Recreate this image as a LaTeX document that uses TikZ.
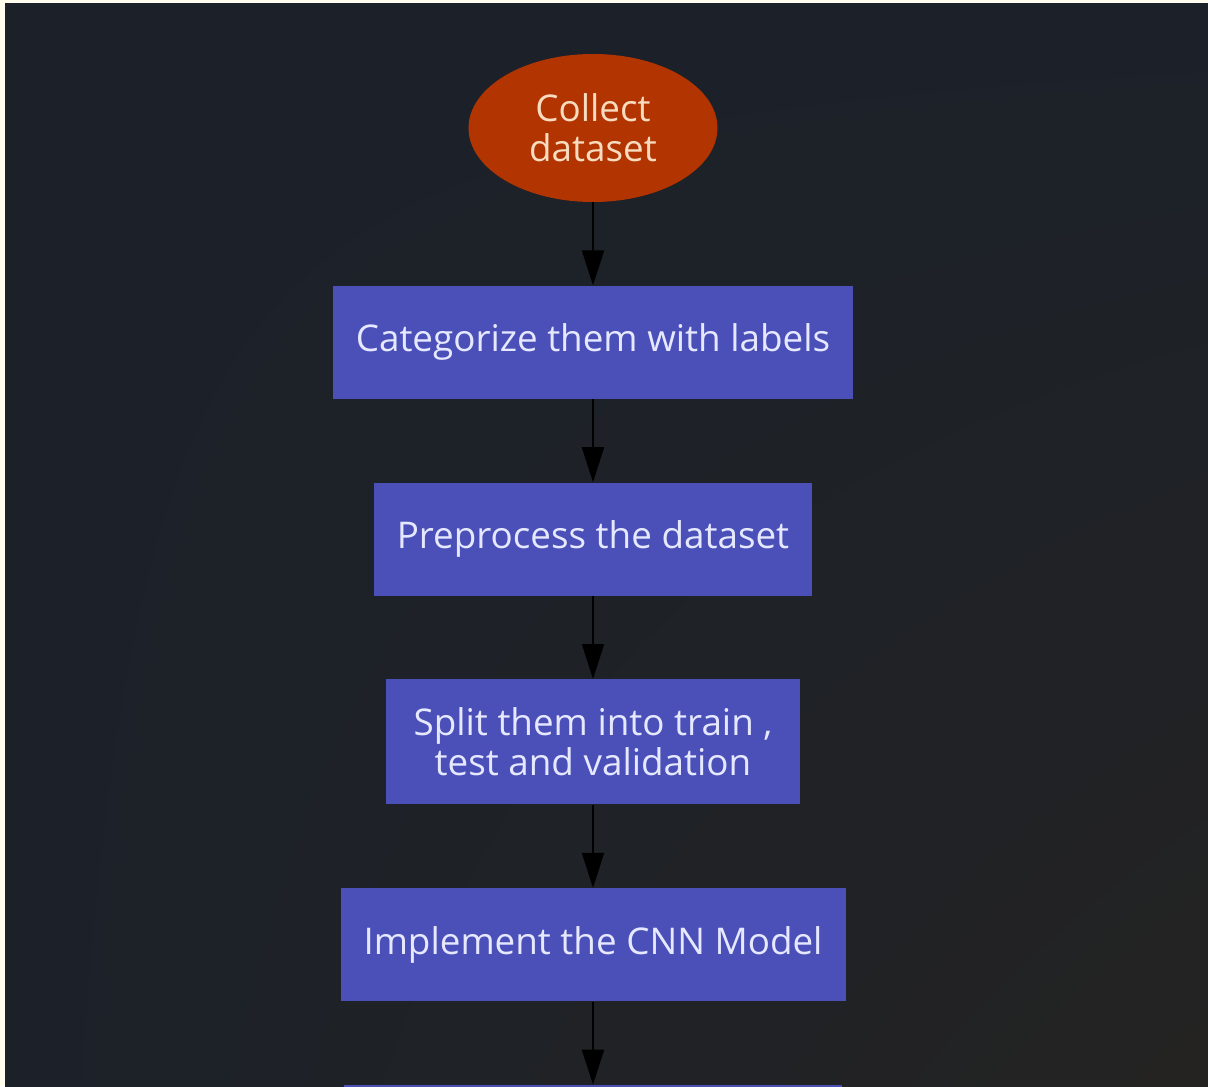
\documentclass[tikz,border=0pt]{standalone}
\usepackage{fontspec}
\setmainfont{Open Sans}
\usetikzlibrary{positioning,shapes.geometric,arrows.meta,shadings}
\definecolor{pagecream}{HTML}{FFFDEE}
\definecolor{canvas}{HTML}{1C2129}
\definecolor{canvaswarm}{HTML}{242322}
\definecolor{startfill}{HTML}{B23400}
\definecolor{starttext}{HTML}{F8DCC0}
\definecolor{stepfill}{HTML}{4A50B8}
\definecolor{steptext}{HTML}{E6E8FF}
\tikzset{
  start/.style={ellipse, fill=startfill, text=starttext, inner sep=0pt,
    minimum width=124.5pt, minimum height=74pt, align=center},
  stepbox/.style={rectangle, fill=stepfill, text=steptext, inner xsep=11.5pt,
    minimum height=56.5pt, align=center},
  flow/.style={-{Triangle[length=17.5pt,width=11pt]}, line width=1pt, black}}

\begin{document}
\begin{tikzpicture}[node distance=41.5pt, font=\fontsize{18.4}{20}\selectfont]
      % page and background
      \fill[pagecream] (0,0) rectangle (604pt,-543pt);
      \shade[upper left=canvas, upper right=canvas, lower left=canvas,
             lower right=canvaswarm] (2.5pt,-2pt) rectangle (604pt,-543pt);
      \useasboundingbox (0,0) rectangle (604pt,-543pt);
      \clip (0,0) rectangle (604pt,-543pt);
      \node[start]   (collect)    at (296.5pt,-64pt)   {Collect\\dataset};
      \node[stepbox] (categorize) [below=of collect]    {Categorize them with labels};
      \node[stepbox] (preprocess) [below=of categorize] {Preprocess the dataset};
      \node[stepbox, minimum height=62.5pt, inner xsep=14pt]
                     (split)      [below=of preprocess] {Split them into train ,\\ test and validation};
      \node[stepbox] (implement)  [below=of split]      {Implement the CNN Model};
      \node[stepbox, minimum width=249pt]
                     (next)       [below=of implement]  {};
      \path[flow]
        (collect)    edge (categorize)
        (categorize) edge (preprocess)
        (preprocess) edge (split)
        (split)      edge (implement)
        (implement)  edge (next);
    \end{tikzpicture}
\end{document}
